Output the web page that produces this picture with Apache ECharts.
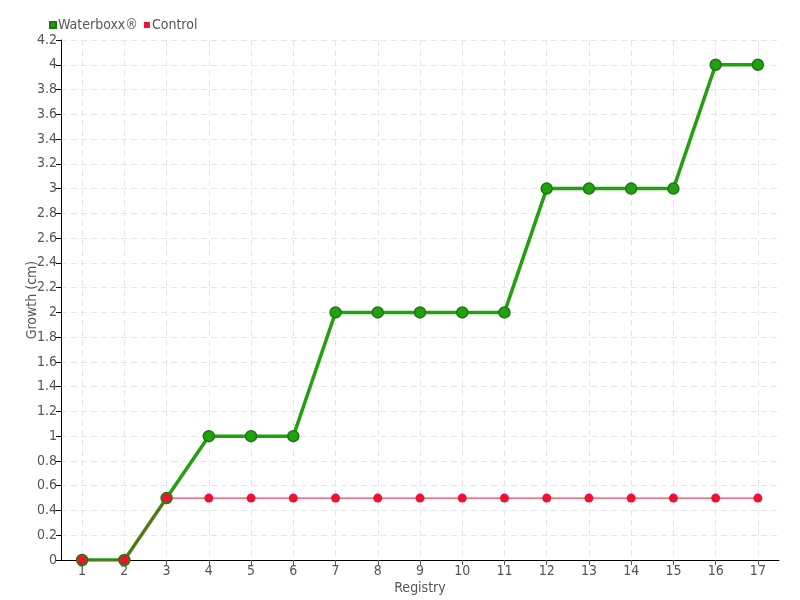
<!DOCTYPE html>
<html><head><meta charset="utf-8">
<script src="https://cdn.jsdelivr.net/npm/echarts@6/dist/echarts.min.js"></script>
<style>html,body{margin:0;padding:0;background:#fff}#c{width:800px;height:600px}</style>
</head><body><div id="c"></div>
<script>
const categories = [1,2,3,4,5,6,7,8,9,10,11,12,13,14,15,16,17];
const waterboxx = [0,0,0.5,1,1,1,2,2,2,2,2,3,3,3,3,4,4];
const control = [0,0,0.5,0.5,0.5,0.5,0.5,0.5,0.5,0.5,0.5,0.5,0.5,0.5,0.5,0.5,0.5];
const yTicks = [0,0.2,0.4,0.6,0.8,1,1.2,1.4,1.6,1.8,2,2.2,2.4,2.6,2.8,3,3.2,3.4,3.6,3.8,4,4.2];

const FONT = '"Liberation Sans Narrow","DejaVu Sans Condensed",sans-serif';
const chart = echarts.init(document.getElementById('c'));
const pairs = arr => categories.map((c,i)=>[c, arr[i]]);
chart.setOption({
  animation:false,
  textStyle:{fontFamily:FONT},
  legend:{left:44, top:13, itemWidth:6, itemHeight:6, itemGap:6, icon:'rect',
    textStyle:{fontFamily:FONT, fontSize:14, color:'#555', padding:[0,0,0,-3]},
    data:['Waterboxx®','Control']},
  grid:{left:61, right:21, top:40, bottom:40, outerBoundsMode:'none', containLabel:false},
  xAxis:{type:'value', min:0.5, max:17.5, name:'Registry', nameLocation:'middle', nameGap:21,
    nameMoveOverlap:false,
    nameTextStyle:{fontFamily:FONT, fontSize:14, color:'#555'},
    axisLine:{lineStyle:{color:'#000'}},
    axisTick:{customValues:categories, length:5, lineStyle:{color:'#555'}},
    axisLabel:{customValues:categories, fontFamily:FONT, fontSize:14, color:'#555', margin:4},
    splitLine:{show:true, lineStyle:{color:'#e6e6e6', type:[6,4]}}},
  yAxis:{type:'value', min:0, max:4.2, interval:0.2, name:'Growth (cm)', nameLocation:'middle', nameGap:22,
    nameMoveOverlap:false,
    nameTextStyle:{fontFamily:FONT, fontSize:14, color:'#555'},
    axisLine:{show:true, lineStyle:{color:'#000'}},
    axisTick:{show:true, length:5, lineStyle:{color:'#000'}},
    axisLabel:{fontFamily:FONT, fontSize:14, color:'#555', margin:4,
      formatter:v=>{const t=yTicks.find(x=>Math.abs(x-v)<1e-9);return t===undefined?'':String(t);}},
    splitLine:{show:true, lineStyle:{color:'#e6e6e6', type:[6,4]}}},
  series:[
    {name:'Waterboxx®', type:'line', data:pairs(waterboxx), symbol:'circle', symbolSize:11,
      color:'#22a010', lineStyle:{width:3.5, color:'#22a010'},
      itemStyle:{color:'#22a010', borderColor:'#1a7a10', borderWidth:1.5}, z:2},
    {name:'Control', type:'line', data:pairs(control), symbol:'circle', symbolSize:9,
      color:'#ee1133', lineStyle:{width:1, color:'#ee1133'},
      itemStyle:{color:'#ee1133', borderWidth:0}, z:3}
  ]
});
</script></body></html>
